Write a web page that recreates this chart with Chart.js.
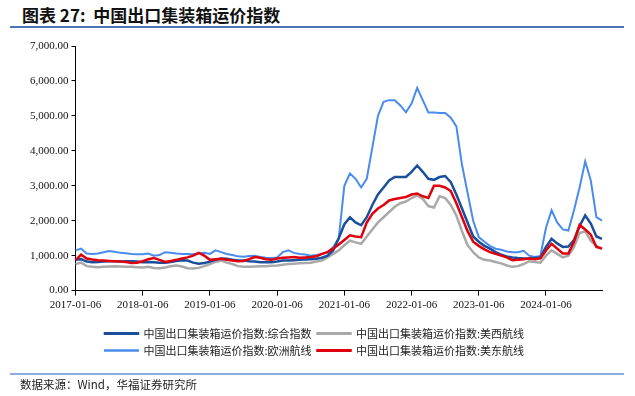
<!DOCTYPE html>
<html>
<head>
<meta charset="utf-8">
<script src="https://cdn.jsdelivr.net/npm/chart.js@4"></script>
<style>
  body { margin: 0; width: 635px; height: 396px; background: #fff; position: relative; overflow: hidden; }
  #title { position: absolute; left: 22px; top: 2px; font: bold 17px "Noto Sans CJK SC", sans-serif; color: #111; white-space: pre; }
  #titleLine { position: absolute; left: 10px; top: 26px; width: 614px; height: 2px; background: #4f74b3; }
  #sourceLine { position: absolute; left: 10px; top: 373px; width: 614px; height: 2px; background: #8fabd9; }
  #source { position: absolute; left: 20px; top: 376px; font: 11.5px "Noto Sans CJK SC", sans-serif; color: #222; }
  #wrap { position: absolute; left: 0; top: 0; width: 635px; height: 396px; }
</style>
</head>
<body>
<div id="title">图表 27:  中国出口集装箱运价指数</div>
<div id="titleLine"></div>
<div id="wrap"><canvas id="chart"></canvas></div>
<div id="sourceLine"></div>
<div id="source">数据来源：Wind，华福证券研究所</div>
<script>
// monthly points, 2017-01 .. 2024-11
const months = [];
for (let y = 2017; y <= 2024; y++) {
    for (let m = 1; m <= 12; m++) {
        if (y === 2024 && m > 11) break;
        months.push(y + "-" + String(m).padStart(2, "0"));
    }
}
const yearTicks = ["2017-01-06", "2018-01-06", "2019-01-06", "2020-01-06", "2021-01-06", "2022-01-06", "2023-01-06", "2024-01-06"];

const composite = [
    880, 900, 830, 810, 820, 830, 840, 840, 830, 840, 840, 830,
    810, 820, 810, 800, 800, 820, 850, 870, 860, 800, 770, 790,
    830, 880, 920, 910, 880, 860, 860, 840, 830, 810, 810, 810,
    830, 860, 860, 870, 880, 890, 900, 910, 940, 1000, 1150, 1500,
    1900, 2100, 1950, 1870, 2100, 2450, 2750, 2950, 3150, 3250, 3250, 3250,
    3400, 3580, 3400, 3200, 3170, 3250, 3280, 3100, 2750, 2350, 1950, 1550,
    1400, 1280, 1200, 1100, 1030, 980, 950, 930, 920, 920, 930, 950,
    1250, 1480, 1350, 1250, 1260, 1450, 1850, 2150, 1920, 1550, 1480
];
const usWest = [
    760, 800, 700, 680, 670, 680, 690, 700, 690, 680, 680, 670,
    660, 680, 650, 640, 660, 700, 720, 690, 640, 630, 650, 700,
    760, 820, 860, 800, 760, 700, 680, 680, 690, 700, 700, 710,
    720, 740, 760, 770, 780, 790, 800, 830, 860, 950, 1050, 1150,
    1300, 1430, 1380, 1340, 1550, 1750, 1950, 2100, 2250, 2400, 2500, 2550,
    2650, 2720, 2620, 2420, 2380, 2700, 2650, 2450, 2150, 1700, 1300, 1100,
    950, 880, 860, 820, 780, 720, 680, 700, 760, 840, 820, 800,
    1000, 1150, 1050, 950, 1000, 1250, 1650, 1700, 1430, 1280, 1200
];
const europe = [
    1150, 1200, 1060, 1050, 1060, 1100, 1130, 1110, 1080, 1070, 1050, 1040,
    1040, 1060, 1000, 1020, 1100, 1080, 1060, 1050, 1050, 1040, 1060, 1080,
    1050, 1150, 1100, 1050, 1020, 980, 970, 990, 1000, 960, 940, 930,
    950, 1100, 1150, 1080, 1050, 1030, 1000, 1020, 1050, 1100, 1250, 1500,
    3000, 3350, 3200, 2950, 3200, 4100, 5000, 5400, 5450, 5450, 5300, 5100,
    5350, 5800, 5450, 5100, 5100, 5080, 5080, 4950, 4700, 3600, 2800, 2000,
    1530, 1400, 1280, 1200, 1170, 1120, 1100, 1100, 1140, 1000, 960, 990,
    1800, 2300, 1950, 1750, 1720, 2300, 2950, 3700, 3150, 2100, 2000
];
const usEast = [
    870, 1030, 920, 890, 870, 860, 850, 840, 830, 820, 790, 800,
    840, 900, 930, 880, 820, 850, 880, 920, 950, 1000, 1080, 1000,
    880, 900, 910, 880, 860, 840, 850, 900, 960, 940, 900, 880,
    920, 940, 950, 960, 940, 950, 960, 980, 1050, 1100, 1200, 1320,
    1450, 1580, 1550, 1530, 1950, 2200, 2350, 2450, 2580, 2620, 2650, 2680,
    2750, 2780, 2700, 2650, 3000, 3000, 2950, 2850, 2500, 2100, 1700, 1400,
    1280, 1180, 1100, 1050, 1000, 950, 870, 880, 900, 920, 900, 920,
    1150, 1340, 1200, 1060, 1060, 1400, 1880, 1750, 1600, 1250, 1200
];

const serif = "'Liberation Serif', 'Times New Roman', serif";

const ctx = document.getElementById("chart").getContext("2d");
new Chart(ctx, {
    type: "line",
    data: {
        labels: months,
        datasets: [
            { label: "中国出口集装箱运价指数:综合指数", data: composite, borderColor: "#1a4f9c", backgroundColor: "#1a4f9c", borderWidth: 2.5, order: 1 },
            { label: "中国出口集装箱运价指数:美西航线", data: usWest, borderColor: "#a9a9a9", backgroundColor: "#a9a9a9", borderWidth: 2.5, order: 2 },
            { label: "中国出口集装箱运价指数:欧洲航线", data: europe, borderColor: "#4a8ced", backgroundColor: "#4a8ced", borderWidth: 2, order: 3 },
            { label: "中国出口集装箱运价指数:美东航线", data: usEast, borderColor: "#e0000b", backgroundColor: "#e0000b", borderWidth: 2.5, order: 0 },
        ],
    },
    options: {
        responsive: true,
        maintainAspectRatio: false,
        animation: false,
        layout: { padding: { top: 46, left: 27, right: 33, bottom: 30 } },
        elements: { point: { radius: 0 }, line: { tension: 0 } },
        plugins: {
            tooltip: { enabled: false },
            legend: {
                position: "bottom",
                title: { display: true, text: " ", font: { size: 1 }, padding: { top: 6, bottom: 0 } },
                labels: {
                    boxWidth: 33,
                    boxHeight: 0.5,
                    padding: 6,
                    color: "#222",
                    font: { family: "'Noto Sans CJK SC', sans-serif", size: 11 },
                    sort: (a, b) => a.datasetIndex - b.datasetIndex,
                },
            },
        },
        scales: {
            x: {
                grid: {
                    drawOnChartArea: false,
                    tickLength: 5,
                    tickColor: (c) => (c.index % 12 === 0 ? "#000" : "rgba(0,0,0,0)"),
                },
                border: { color: "#000" },
                ticks: {
                    autoSkip: false,
                    maxRotation: 0,
                    color: "#111",
                    font: { family: serif, size: 11 },
                    callback: (v, i) => (i % 12 === 0 ? yearTicks[i / 12] : ""),
                },
            },
            y: {
                min: 0,
                max: 7000,
                grid: { drawOnChartArea: false, tickLength: 4, tickColor: "#000" },
                border: { color: "#000" },
                ticks: {
                    stepSize: 1000,
                    color: "#111",
                    font: { family: serif, size: 11 },
                    callback: (v) => v.toLocaleString("en-US", { minimumFractionDigits: 2, maximumFractionDigits: 2 }),
                },
            },
        },
    },
});
</script>
</body>
</html>
